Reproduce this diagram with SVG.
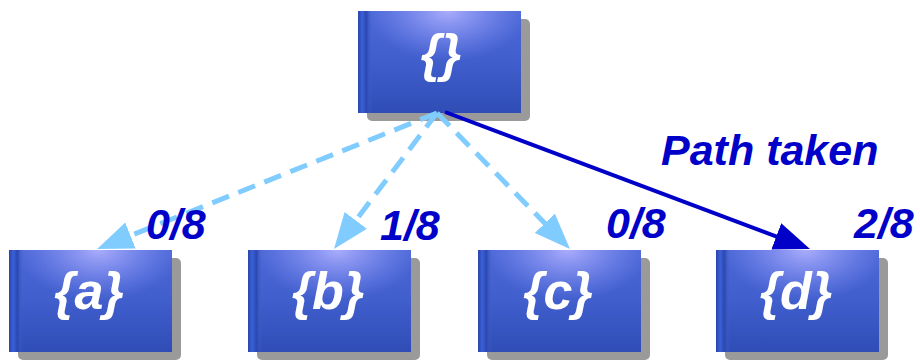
<svg xmlns="http://www.w3.org/2000/svg" width="920" height="361" viewBox="0 0 920 361">
<style>
.shadow{fill:#9a9a9a}
.box{fill:url(#g1)}
.hl{fill:url(#g2)}
.edge{fill:url(#g3)}
.nt{font-family:"Liberation Sans",Arial,sans-serif;font-style:italic;font-weight:bold;font-size:52px;fill:#ffffff;text-anchor:middle}
.lab{font-family:"Liberation Sans",Arial,sans-serif;font-style:italic;font-weight:bold;font-size:43px;fill:#0000c8}
.dash{stroke:#80ccff;stroke-width:5;stroke-dasharray:18 10;fill:none}
.solid{stroke:#0000c8;stroke-width:4;fill:none}
</style>
<defs>
<linearGradient id="g1" x1="0" y1="0" x2="0" y2="1">
<stop offset="0" stop-color="#4c68d6"/>
<stop offset="0.5" stop-color="#405ecc"/>
<stop offset="1" stop-color="#304db6"/>
</linearGradient>
<radialGradient id="g2" cx="0.55" cy="0" r="0.5" fx="0.55" fy="0">
<stop offset="0" stop-color="#b4b4ff" stop-opacity="0.9"/>
<stop offset="1" stop-color="#8c96ff" stop-opacity="0"/>
</radialGradient>
<linearGradient id="g3" x1="0" y1="0" x2="1" y2="0">
<stop offset="0" stop-color="#2a44a8"/>
<stop offset="0.3" stop-color="#3a60d8"/>
<stop offset="0.6" stop-color="#2c48b0"/>
<stop offset="1" stop-color="#4466d0" stop-opacity="0"/>
</linearGradient>
<marker id="ahL" markerUnits="userSpaceOnUse" markerWidth="38" markerHeight="30" refX="14" refY="14" orient="auto" viewBox="0 0 38 30">
<path d="M0,0 L36,14 L0,28 Z" fill="#80ccff"/>
</marker>
<marker id="ahD" markerUnits="userSpaceOnUse" markerWidth="38" markerHeight="30" refX="14" refY="14" orient="auto" viewBox="0 0 38 30">
<path d="M0,0 L36,14 L0,28 Z" fill="#0000c8"/>
</marker>
</defs>

<g id="n-root">
<rect class="shadow" x="367" y="19" width="163" height="102" rx="5"/>
<rect class="box" x="358" y="11" width="163" height="102"/>
<rect class="hl" x="358" y="11" width="163" height="102"/>
<rect class="edge" x="358" y="11" width="14" height="102"/>
<text class="nt" x="441" y="71">{}</text>
</g>

<g id="n-a">
<rect class="shadow" x="18" y="258" width="163" height="102" rx="5"/>
<rect class="box" x="9" y="250" width="163" height="102"/>
<rect class="hl" x="9" y="250" width="163" height="102"/>
<rect class="edge" x="9" y="250" width="14" height="102"/>
<text class="nt" x="89" y="309">{a}</text>
</g>

<g id="n-b">
<rect class="shadow" x="257" y="258" width="163" height="102" rx="5"/>
<rect class="box" x="248" y="250" width="163" height="102"/>
<rect class="hl" x="248" y="250" width="163" height="102"/>
<rect class="edge" x="248" y="250" width="14" height="102"/>
<text class="nt" x="328" y="309">{b}</text>
</g>

<g id="n-c">
<rect class="shadow" x="487" y="258" width="163" height="102" rx="5"/>
<rect class="box" x="478" y="250" width="163" height="102"/>
<rect class="hl" x="478" y="250" width="163" height="102"/>
<rect class="edge" x="478" y="250" width="14" height="102"/>
<text class="nt" x="558" y="309">{c}</text>
</g>

<g id="n-d">
<rect class="shadow" x="725" y="258" width="163" height="102" rx="5"/>
<rect class="box" x="716" y="250" width="163" height="102"/>
<rect class="hl" x="716" y="250" width="163" height="102"/>
<rect class="edge" x="716" y="250" width="14" height="102"/>
<text class="nt" x="796" y="309">{d}</text>
</g>

<g id="connectors">
<line class="dash" x1="437" y1="113" x2="117.5" y2="240.8" marker-end="url(#ahL)"/>
<line class="dash" x1="437" y1="113" x2="347.3" y2="231.5" marker-end="url(#ahL)"/>
<line class="dash" x1="437" y1="113" x2="554.6" y2="233.3" marker-end="url(#ahL)"/>
<line class="solid" x1="445" y1="112" x2="789.4" y2="241.3" marker-end="url(#ahD)"/>
</g>

<g id="labels">
<text class="lab" x="146" y="239">0/8</text>
<text class="lab" x="380" y="240">1/8</text>
<text class="lab" x="606" y="238">0/8</text>
<text class="lab" x="854" y="238">2/8</text>
<text class="lab" x="661" y="165">Path taken</text>
</g>
</svg>
